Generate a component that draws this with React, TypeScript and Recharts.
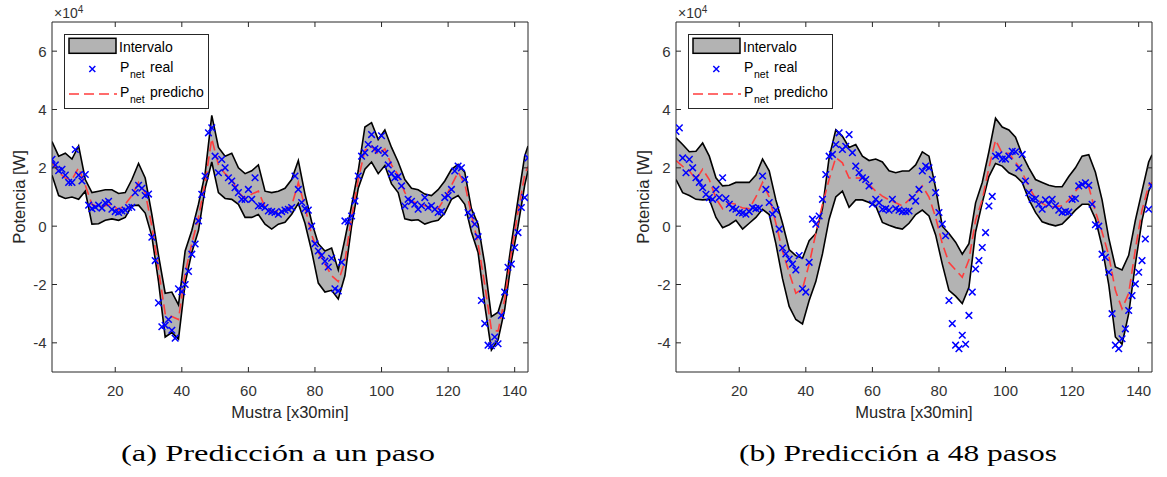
import React from 'react';
import { ComposedChart, Area, Line, Scatter, XAxis, YAxis, Legend } from 'recharts';

const FONT = '"Liberation Sans", Arial, sans-serif';
const SERIF = '"Liberation Serif", serif';
const AXIS = '#262626';

// muestras (x30min) donde se leyó la banda y la predicción
const bandIdx = [
  1, 3, 5, 7, 9, 11, 13, 15, 17, 19, 21, 23, 25, 27, 29, 31, 33, 35, 37, 39,
  41, 43, 45, 47, 49, 51, 53, 55, 57, 59, 61, 63, 65, 67, 69, 71, 73, 75, 77, 79,
  81, 83, 85, 87, 89, 91, 93, 95, 97, 99, 101, 103, 105, 107, 109, 111, 113, 115, 117, 119,
  121, 123, 125, 127, 129, 131, 133, 135, 137, 139, 141, 143, 144,
];

const xTicks = [20, 40, 60, 80, 100, 120, 140];
const yTicks = [-4, -2, 0, 2, 4, 6];

// (a) un paso, valores en x10^4 W
const upperA = [
  2.9, 2.4, 2.5, 2.3, 2.75, 1.6, 1.15, 1.2, 1.25, 1.25,
  1.12, 1.15, 1.6, 2.15, 1.65, 0.4, -1.0, -2.3, -2.26, -2.7,
  -0.85, -0.15, 0.75, 1.8, 3.8, 2.7, 2.4, 2.5, 2.0, 1.8,
  1.9, 2.1, 1.2, 1.15, 1.2, 1.3, 1.6, 2.25, 1.1, 0.15,
  -0.6, -0.85, -0.75, -1.5, -0.44, 0.7, 1.9, 3.4, 3.55, 2.97,
  3.3, 2.7, 2.2, 1.6, 1.3, 1.25, 1.1, 1.05, 1.25, 1.55,
  1.95, 2.12, 1.85, 0.6, 0.07, -1.3, -3.1, -2.95, -2.2, -0.6,
  0.92, 2.4, 2.75,
];
const lowerA = [
  1.75, 1.05, 0.95, 1.0, 0.92, 1.2, 0.07, 0.08, 0.2, 0.25,
  0.2, 0.3, 0.7, 0.72, 0.45, -0.35, -1.9, -3.8, -3.65, -3.87,
  -1.95, -0.9, -0.15, 1.3, 2.2, 1.15, 0.95, 0.92, 0.75, 0.3,
  0.3, 0.4, 0.07, -0.1, 0.07, 0.13, 0.41, 0.78, 0.1, -0.85,
  -1.95, -2.26, -2.2, -2.5, -1.7, 0.0, 1.3, 1.95, 2.2, 1.8,
  2.08, 1.45, 1.15, 0.25, 0.2, 0.22, 0.07, 0.15, 0.2, 0.45,
  0.92, 1.05, 0.75, -0.2, -0.9, -2.7, -4.25, -3.9, -2.85, -1.2,
  0.0, 1.4, 1.9,
];
const predA = [
  2.2, 1.85, 1.65, 1.6, 2.0, 1.4, 0.75, 0.65, 0.7, 0.75,
  0.55, 0.75, 1.05, 1.5, 1.15, 0.0, -1.5, -3.0, -3.1, -3.2,
  -1.6, -0.6, 0.3, 1.5, 3.0, 2.1, 1.8, 1.6, 1.15, 0.95,
  1.1, 1.2, 0.65, 0.5, 0.5, 0.55, 0.7, 1.5, 0.65, -0.3,
  -0.9, -1.3, -1.7, -1.9, -1.2, 0.3, 1.6, 2.6, 2.75, 2.45,
  2.65, 2.1, 1.75, 1.15, 0.85, 0.78, 0.7, 0.62, 0.6, 0.95,
  1.4, 1.85, 1.45, 0.4, -0.6, -2.0, -3.55, -3.6, -2.5, -0.9,
  0.5, 1.75, 2.05,
];
// P_net real, muestras 1..144
const realA = [
  2.29, 2.1, 1.9, 1.95, 1.75, 1.5, 1.5, 2.63, 1.75, 1.55,
  1.77, 0.72, 0.6, 0.65, 0.72, 0.62, 0.8, 0.85, 0.58, 0.5,
  0.47, 0.52, 0.55, 0.64, 0.65, 1.15, 1.4, 1.3, 1.05, 1.1,
  -0.38, -1.18, -2.63, -3.45, -3.4, -3.2, -3.57, -3.84, -2.15, -2.25,
  -2.0, -1.55, -0.96, -0.61, 0.18, 1.09, 1.72, 3.2, 3.37, 2.4,
  1.83, 2.29, 2.0, 1.66, 1.55, 1.32, 1.15, 0.92, 0.92, 1.26,
  0.92, 1.66, 0.69, 0.7, 0.64, 0.52, 0.5, 0.47, 0.41, 0.5,
  0.55, 0.58, 0.64, 1.72, 1.26, 0.81, 0.6, 0.55, 0.0, -0.6,
  -0.85, -1.0, -1.2, -1.4, -1.1, -2.15, -2.22, -1.24, 0.18, 0.15,
  0.35, 0.86, 1.72, 2.4, 2.52, 2.8, 3.14, 2.65, 2.6, 3.1,
  2.5, 2.1, 1.8, 1.66, 1.7, 1.38, 0.69, 0.92, 0.85, 0.75,
  0.58, 0.7, 0.98, 0.64, 0.7, 0.58, 0.47, 0.5, 0.98, 1.05,
  1.26, 1.89, 2.06, 2.0, 1.6, 0.47, 0.35, 0.07, -0.36, -2.55,
  -3.34, -4.08, -4.1, -3.8, -4.03, -3.06, -2.26, -1.41, -1.3, -0.73,
  -0.22, 0.64, 0.98, 2.34,
];

// (b) 48 pasos
const upperB = [
  3.03, 2.8, 2.55, 2.57, 2.85, 2.4, 1.66, 1.38, 1.4, 1.5,
  1.5, 1.5, 1.75, 2.3, 1.9, 0.9, 0.1, -0.8, -1.01, -1.1,
  -0.5, -0.25, 0.6, 2.35, 3.3, 3.08, 2.7, 2.8, 2.4, 2.25,
  2.3, 2.2, 1.9, 1.83, 1.89, 1.89, 2.1, 2.55, 2.4, 1.3,
  0.0, -0.25, -0.55, -0.96, -0.6, 0.8, 1.5, 2.55, 3.7, 3.4,
  3.3, 3.05, 2.45, 2.0, 1.6, 1.5, 1.4, 1.35, 1.35, 1.7,
  2.0, 2.4, 2.45, 1.85, 0.9, -0.4, -1.4, -1.5, -1.0, 0.2,
  1.2, 2.2, 2.45,
];
const lowerB = [
  1.6, 1.15, 1.05, 0.92, 0.9, 0.92, 0.3, -0.05, 0.05, 0.2,
  -0.1, 0.1, 0.3, 0.58, 0.4, -0.6, -1.8, -2.75, -3.2, -3.35,
  -2.55, -1.9, -0.95, 0.24, 1.0, 1.2, 0.65, 0.9, 0.9, 0.81,
  0.69, 0.13, 0.03, -0.05, -0.1, 0.1, 0.4, 0.55, 0.35, -0.3,
  -1.3, -2.2, -2.4, -2.65, -2.1, -0.2, 0.8, 1.7, 2.15, 2.06,
  1.83, 1.72, 1.5, 0.92, 0.47, 0.15, 0.07, 0.01, 0.07, 0.3,
  0.55, 0.75, 0.75, 0.25, -0.7, -2.0, -3.8, -4.05, -3.0, -1.3,
  0.2, 1.2, 1.45,
];
const predB = [
  2.25, 2.05, 1.9, 1.6, 1.95, 1.6, 0.95, 0.6, 0.8, 0.75,
  0.62, 0.6, 1.0, 1.5, 1.0, 0.1, -0.85, -1.6, -2.3, -2.15,
  -1.3, -0.25, 0.75, 1.6, 2.35, 2.17, 1.65, 1.65, 1.65, 1.43,
  1.2, 1.03, 0.9, 0.8, 0.7, 0.9, 1.1, 1.38, 1.0, 0.3,
  -0.6, -1.25, -1.5, -1.75, -1.15, 0.2, 0.9, 2.0, 2.95, 2.5,
  2.5, 2.2, 1.85, 1.35, 0.95, 0.78, 0.66, 0.67, 0.7, 0.9,
  1.2, 1.45, 1.35, 0.5, -0.2, -1.0, -2.2, -2.83, -2.3, -0.8,
  0.55, 1.4, 1.5,
];
const realB = [
  3.25, 3.37, 2.34, 1.83, 2.29, 2.0, 1.66, 1.5, 1.32, 1.09,
  0.98, 0.92, 1.26, 0.98, 1.66, 0.95, 0.75, 0.62, 0.58, 0.47,
  0.45, 0.41, 0.5, 0.64, 0.6, 0.62, 1.72, 1.26, 0.81, 0.41,
  0.55, -0.1, -0.75, -0.95, -1.13, -1.3, -1.5, -1.01, -2.15, -2.26,
  -1.24, 0.24, 0.07, 0.35, 0.92, 1.77, 2.4, 2.46, 2.8, 3.2,
  2.63, 2.74, 3.14, 2.52, 2.06, 1.83, 1.66, 1.6, 1.38, 0.75,
  0.92, 0.8, 0.58, 0.6, 0.55, 0.92, 0.6, 0.55, 0.5, 0.5,
  0.52, 0.98, 0.86, 1.26, 1.89, 2.06, 2.0, 1.6, 1.15, 0.47,
  0.07, -0.33, -2.55, -3.34, -4.08, -4.2, -3.74, -4.05, -3.06, -2.26,
  -1.47, -1.18, -0.73, -0.22, 0.69, 1.02, 2.4, 2.45, 2.3, 2.3,
  2.4, 2.57, 2.55, 2.0, 2.46, 1.55, 1.15, 0.92, 0.95, 0.75,
  0.58, 0.9, 0.75, 0.92, 0.7, 0.55, 0.47, 0.5, 0.48, 0.92,
  0.95, 1.38, 1.43, 1.49, 1.4, 0.75, 0.05, 0.0, -0.96, -1.07,
  -1.58, -3.0, -4.08, -4.2, -3.86, -3.52, -2.89, -2.38, -1.98, -1.58,
  -1.18, -0.44, 0.58, 1.38,
];

const crossPath = (cx: number, cy: number, s: number) =>
  `M${cx - s},${cy - s}L${cx + s},${cy + s}M${cx - s},${cy + s}L${cx + s},${cy - s}`;

const Cross = (p: any) => (
  <path d={crossPath(p.cx, p.cy, 3.3)} stroke="#0000ff" strokeWidth={1.5} fill="none" />
);

const BottomTick = (p: any) => (
  <g>
    <line x1={p.x} x2={p.x} y1={p.y} y2={p.y - 5} stroke={AXIS} />
    <text x={p.x} y={p.y + 24} textAnchor="middle" fill="#333" fontSize={15} fontFamily={FONT}>
      {p.payload.value}
    </text>
  </g>
);
const TopTick = (p: any) => <line x1={p.x} x2={p.x} y1={p.y} y2={p.y + 5} stroke={AXIS} />;
const LeftTick = (p: any) => (
  <g>
    <line x1={p.x} x2={p.x + 5} y1={p.y} y2={p.y} stroke={AXIS} />
    <text x={p.x - 5.5} y={p.y} dy="0.36em" textAnchor="end" fill="#333" fontSize={15} fontFamily={FONT}>
      {p.payload.value}
    </text>
  </g>
);
const RightTick = (p: any) => <line x1={p.x} x2={p.x - 5} y1={p.y} y2={p.y} stroke={AXIS} />;

const LegendBox = () => (
  <svg width={146} height={76} style={{ display: 'block', fontFamily: FONT }}>
    <rect x={0.5} y={0.5} width={144} height={74} fill="#fff" stroke={AXIS} />
    <rect x={5} y={4.3} width={47} height={15} fill="#b3b3b3" stroke="#000" strokeWidth={1.5} />
    <text x={55} y={17.7} fontSize={14} fill="#000">Intervalo</text>
    <path d={crossPath(28.3, 35, 3)} stroke="#0000ff" strokeWidth={1.5} fill="none" />
    <text x={56} y={37.7} fontSize={14} fill="#000">
      P<tspan x={66} dy={6.6} fontSize={10.5}>net</tspan>
      <tspan x={86} dy={-6.6}>real</tspan>
    </text>
    <line x1={5} x2={53} y1={60} y2={60} stroke="#ff3c3c" strokeWidth={1.6} strokeDasharray="10 5" />
    <text x={56} y={62.7} fontSize={14} fill="#000">
      P<tspan x={66} dy={6.6} fontSize={10.5}>net</tspan>
      <tspan x={86} dy={-6.6}>predicho</tspan>
    </text>
  </svg>
);

const YLabel = (p: any) => {
  const vb = p.viewBox;
  const cx = vb.x + 18;
  const cy = vb.y + vb.height / 2;
  return (
    <g fontFamily={FONT}>
      <text x={cx} y={cy} transform={`rotate(-90 ${cx} ${cy})`} textAnchor="middle" fontSize={16.5} fill="#262626">
        Potencia [W]
      </text>
      <text x={vb.x + vb.width + 2} y={vb.y - 3.7} fontSize={14} fill="#333">
        ×10<tspan dy={-5.6} fontSize={10}>4</tspan>
      </text>
    </g>
  );
};

const XLabel = (p: any) => {
  const vb = p.viewBox;
  return (
    <text x={vb.x + vb.width / 2} y={vb.y + 45.5} textAnchor="middle" fontSize={16.5} fill="#262626" fontFamily={FONT}>
      Mustra [x30min]
    </text>
  );
};

type PanelProps = { upper: number[]; lower: number[]; pred: number[]; real: number[]; left: number };

function Panel({ upper, lower, pred, real, left }: PanelProps) {
  const rows = bandIdx.map((x, k) => ({ x, band: [lower[k], upper[k]], pred: pred[k] }));
  const pts = real.map((y, k) => ({ x: k + 1, y }));
  return (
    <div style={{ position: 'absolute', left, top: 0 }}>
      <ComposedChart
        width={540}
        height={430}
        data={rows}
        margin={{ top: 21, right: 11, bottom: 25, left: 7 }}
        style={{ fontFamily: FONT }}
      >
        <XAxis
          dataKey="x"
          type="number"
          domain={[1, 144]}
          ticks={xTicks}
          interval={0}
          allowDataOverflow
          height={33}
          tickSize={0}
          tickMargin={0}
          tick={(p: any) => <BottomTick {...p} />}
          axisLine={{ stroke: AXIS }}
          label={{ content: (p: any) => <XLabel {...p} /> }}
        />
        {/* box: top and right axes (1px so they are drawn) */}
        <XAxis
          xAxisId="top"
          orientation="top"
          dataKey="x"
          type="number"
          domain={[1, 144]}
          ticks={xTicks}
          interval={0}
          allowDataOverflow
          height={1}
          tickSize={0}
          tickMargin={0}
          tick={(p: any) => <TopTick {...p} />}
          axisLine={{ stroke: AXIS }}
        />
        <YAxis
          type="number"
          domain={[-5, 7]}
          ticks={yTicks}
          interval={0}
          allowDataOverflow
          width={45}
          tickSize={0}
          tickMargin={0}
          tick={(p: any) => <LeftTick {...p} />}
          axisLine={{ stroke: AXIS }}
          label={{ content: (p: any) => <YLabel {...p} /> }}
        />
        <YAxis
          yAxisId="right"
          orientation="right"
          type="number"
          domain={[-5, 7]}
          ticks={yTicks}
          interval={0}
          allowDataOverflow
          width={1}
          tickSize={0}
          tickMargin={0}
          tick={(p: any) => <RightTick {...p} />}
          axisLine={{ stroke: AXIS }}
        />
        <Area
          type="linear"
          dataKey="band"
          fill="#b3b3b3"
          fillOpacity={1}
          stroke="#000"
          strokeWidth={1.6}
          isAnimationActive={false}
        />
        <Scatter data={pts} dataKey="y" shape={(p: any) => <Cross {...p} />} isAnimationActive={false} />
        <Line
          type="linear"
          dataKey="pred"
          stroke="#ff3c3c"
          strokeWidth={1.6}
          strokeDasharray="10 5"
          dot={false}
          isAnimationActive={false}
        />
        <Line
          xAxisId="top"
          yAxisId="right"
          type="linear"
          dataKey="pred"
          stroke="none"
          dot={false}
          legendType="none"
          isAnimationActive={false}
        />
        <Legend
          layout="horizontal"
          verticalAlign="middle"
          align="center"
          content={() => <LegendBox />}
          wrapperStyle={{ left: 64, top: 34, width: 146, height: 76 }}
        />
      </ComposedChart>
    </div>
  );
}

export default function App() {
  return (
    <div style={{ position: 'absolute', left: 0, top: 0, width: 1167, height: 477, background: '#fff' }}>
      <Panel upper={upperA} lower={lowerA} pred={predA} real={realA} left={0} />
      <Panel upper={upperB} lower={lowerB} pred={predB} real={realB} left={624} />
      <svg width={1167} height={47} style={{ position: 'absolute', left: 0, top: 430 }}>
        <text x={278} y={31} textAnchor="middle" fontSize={24} fontFamily={SERIF} fill="#000"
          textLength={314} lengthAdjust="spacingAndGlyphs">
          (a) Predicción a un paso
        </text>
        <text x={898} y={31} textAnchor="middle" fontSize={24} fontFamily={SERIF} fill="#000"
          textLength={318} lengthAdjust="spacingAndGlyphs">
          (b) Predicción a 48 pasos
        </text>
      </svg>
    </div>
  );
}
